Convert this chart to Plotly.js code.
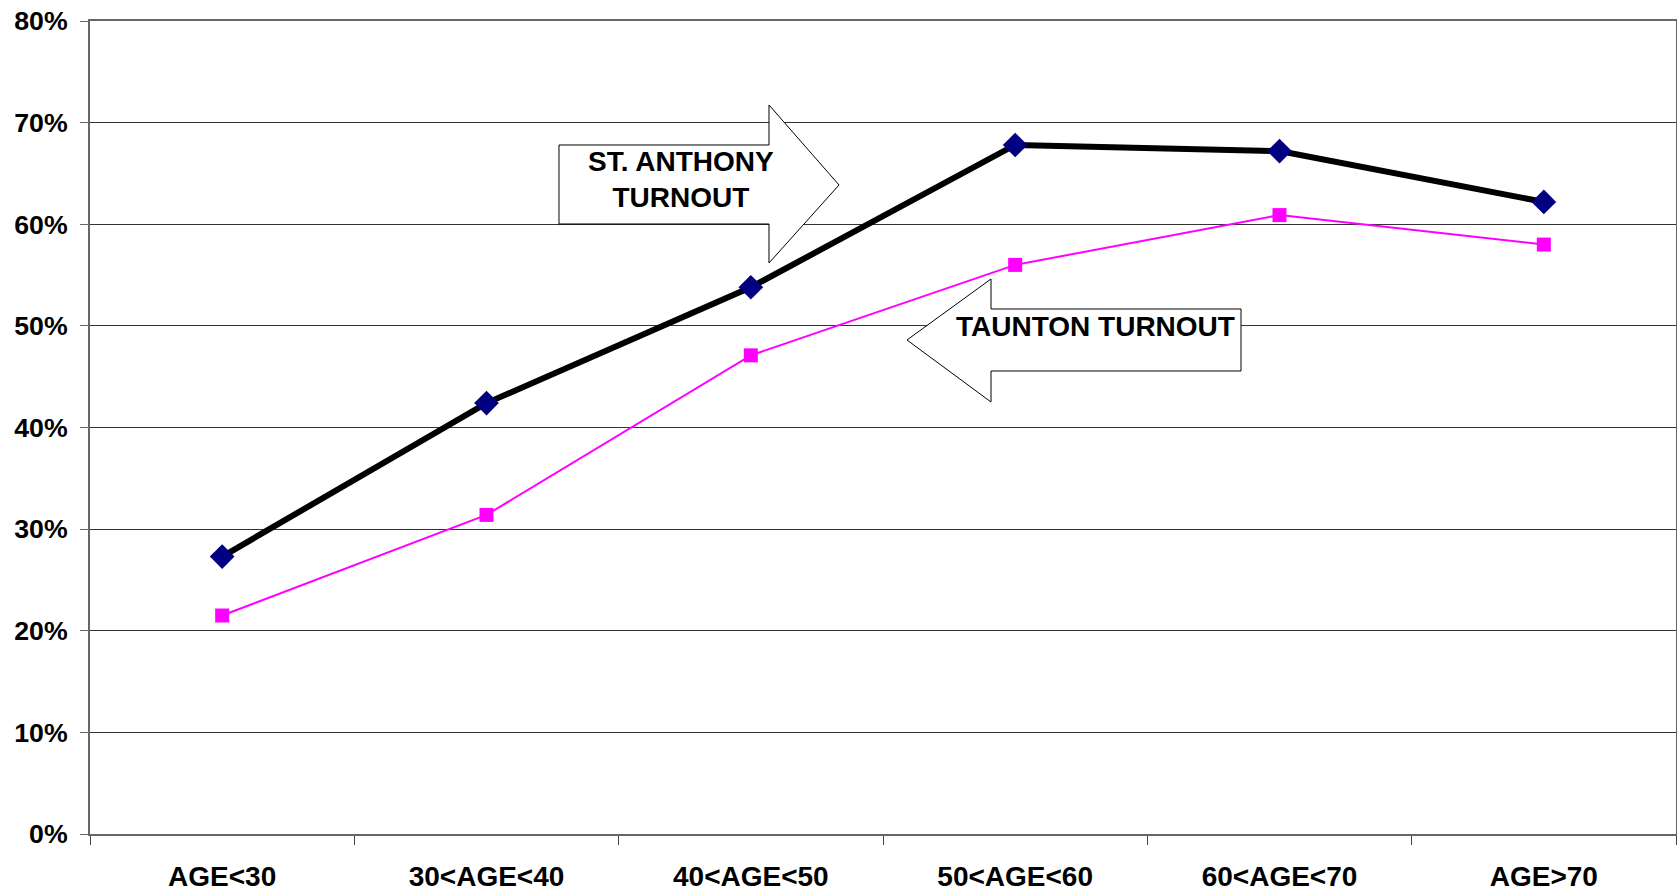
<!DOCTYPE html>
<html>
<head>
<meta charset="utf-8">
<script src="https://cdn.plot.ly/plotly-3.0.1.min.js"></script>
<style>html,body{margin:0;padding:0;background:#fff;}#chart{width:1677px;height:892px;}</style>
</head>
<body>
<div id="chart"></div>
<script>
var categories = ["AGE<30", "30<AGE<40", "40<AGE<50", "50<AGE<60", "60<AGE<70", "AGE>70"];
var stAnthony = [27.3, 42.4, 53.8, 67.8, 67.2, 62.2];
var taunton = [21.5, 31.4, 47.1, 56.0, 60.9, 58.0];
var yTicks = [0, 10, 20, 30, 40, 50, 60, 70, 80];
var yTickLabels = ["0%", "10%", "20%", "30%", "40%", "50%", "60%", "70%", "80%"];
var labelStAnthony = "ST. ANTHONY<br>TURNOUT";
var labelTaunton = "TAUNTON TURNOUT";

var W = 1677, H = 892;
var M = {l: 90, r: 1, t: 21, b: 58};
var PW = W - M.l - M.r, PH = H - M.t - M.b;
function px(x) { return ((x - M.l) / PW).toFixed(5); }
function py(y) { return ((H - M.b - y) / PH).toFixed(5); }
function poly(pts) {
  return 'M' + pts.map(function (p) { return px(p[0]) + ',' + py(p[1]); }).join(' L') + ' Z';
}

var yFont = {family: "Liberation Sans, Arial, sans-serif", size: 26.7, color: "#000", weight: "bold"};
var font = {family: "Liberation Sans, Arial, sans-serif", size: 28, color: "#000", weight: "bold"};

var traces = [
  {
    x: categories, y: taunton, type: "scatter", mode: "lines+markers", name: "TAUNTON",
    line: {color: "#FF00FF", width: 2},
    marker: {symbol: "square", size: 14, color: "#FF00FF"}
  },
  {
    x: categories, y: stAnthony, type: "scatter", mode: "lines+markers", name: "ST. ANTHONY",
    line: {color: "#000000", width: 6},
    marker: {symbol: "diamond", size: 19, color: "#000080"}
  }
];

var layout = {
  width: W, height: H,
  margin: M,
  paper_bgcolor: "#fff", plot_bgcolor: "#fff",
  showlegend: false,
  font: font,
  xaxis: {
    type: "category",
    range: [-0.5, 5.5],
    tickson: "boundaries",
    ticks: "outside", ticklen: 9, tickcolor: "#444", tickwidth: 1,
    showgrid: false,
    showline: true, linecolor: "#666", linewidth: 2, mirror: true,
    tickfont: font,
    ticklabelstandoff: 16,
    fixedrange: true
  },
  yaxis: {
    range: [0, 80],
    tickvals: yTicks, ticktext: yTickLabels,
    ticks: "outside", ticklen: 8, tickcolor: "#666", tickwidth: 1,
    showgrid: true, gridcolor: "#333", gridwidth: 1,
    zeroline: false,
    showline: true, linecolor: "#666", linewidth: 2, mirror: true,
    tickfont: yFont,
    ticklabelstandoff: 7,
    fixedrange: true
  },
  shapes: [
    {
      type: "path", xref: "paper", yref: "paper", layer: "above",
      path: poly([[559,145],[769,145],[769,105],[839,185],[769,263],[769,224],[559,224]]),
      fillcolor: "#fff", line: {color: "#000", width: 1}
    },
    {
      type: "path", xref: "paper", yref: "paper", layer: "above",
      path: poly([[1241,309],[991,309],[991,279],[907,340],[991,402],[991,371],[1241,371]]),
      fillcolor: "#fff", line: {color: "#000", width: 1}
    }
  ],
  annotations: [
    {
      xref: "paper", yref: "paper", x: +px(681), y: +py(180),
      text: labelStAnthony, showarrow: false, font: font, align: "center",
      xanchor: "center", yanchor: "middle"
    },
    {
      xref: "paper", yref: "paper", x: +px(1095), y: +py(327),
      text: labelTaunton, showarrow: false, font: font, align: "center",
      xanchor: "center", yanchor: "middle"
    }
  ]
};

Plotly.newPlot("chart", traces, layout, {displayModeBar: false, staticPlot: true});
</script>
</body>
</html>
